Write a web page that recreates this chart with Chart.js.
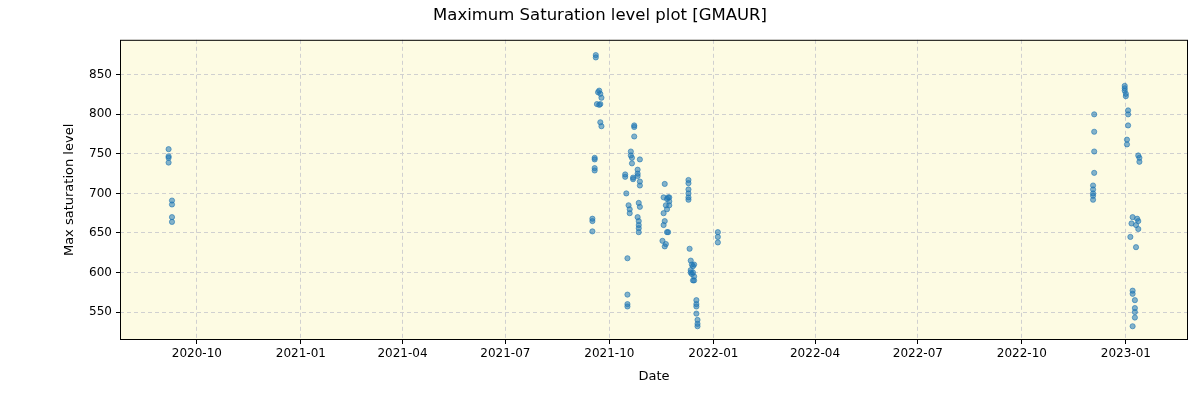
<!DOCTYPE html>
<html>
<head>
<meta charset="utf-8">
<script src="https://cdn.jsdelivr.net/npm/chart.js@4.4.0/dist/chart.umd.min.js"></script>
<style>
  html, body { margin: 0; padding: 0; background: #fff; }
  #wrap { width: 1200px; height: 400px; }
</style>
</head>
<body>
<div id="wrap"><canvas id="satChart"></canvas></div>
<script>
const obsDates = [
  '2020-09-06','2020-09-06','2020-09-06','2020-09-06',
  '2020-09-09','2020-09-09','2020-09-09','2020-09-09',
  '2021-09-19','2021-09-19','2021-09-21','2021-09-22','2021-09-23','2021-09-24',
  '2021-09-20','2021-09-22','2021-09-23','2021-09-23','2021-09-24',
  '2021-09-18','2021-09-18','2021-09-18','2021-09-18',
  '2021-09-16','2021-09-16','2021-09-16',
  '2021-10-15','2021-10-15','2021-10-16','2021-10-17','2021-10-17','2021-10-17','2021-10-17',
  '2021-10-18','2021-10-19','2021-10-19',
  '2021-10-20','2021-10-20','2021-10-21','2021-10-21',
  '2021-10-23','2021-10-23','2021-10-23','2021-10-22','2021-10-22',
  '2021-10-26','2021-10-26','2021-10-26','2021-10-28','2021-10-28','2021-10-28',
  '2021-10-27','2021-10-28','2021-10-26','2021-10-27','2021-10-27','2021-10-27','2021-10-27',
  '2021-11-19','2021-11-18','2021-11-21','2021-11-20','2021-11-22','2021-11-21',
  '2021-11-18','2021-11-19','2021-11-18','2021-11-21','2021-11-17','2021-11-20','2021-11-19',
  '2021-11-23','2021-11-23','2021-11-23','2021-11-22',
  '2021-12-10','2021-12-10','2021-12-10','2021-12-10','2021-12-10','2021-12-10',
  '2021-12-11','2021-12-12','2021-12-13','2021-12-14','2021-12-12','2021-12-13','2021-12-15','2021-12-14',
  '2021-12-12','2021-12-14','2021-12-15','2021-12-15',
  '2021-12-17','2021-12-17','2021-12-17','2021-12-17','2021-12-18','2021-12-18','2021-12-18',
  '2022-01-05','2022-01-05','2022-01-05',
  '2022-12-04','2022-12-04','2022-12-04','2022-12-04','2022-12-03','2022-12-03','2022-12-03','2022-12-03','2022-12-03',
  '2022-12-31','2022-12-31','2022-12-31','2023-01-01','2023-01-01',
  '2023-01-03','2023-01-03','2023-01-03','2023-01-02','2023-01-02',
  '2023-01-12','2023-01-13','2023-01-13',
  '2023-01-07','2023-01-11','2023-01-12','2023-01-10','2023-01-12','2023-01-06','2023-01-05','2023-01-10',
  '2023-01-07','2023-01-07','2023-01-09','2023-01-09','2023-01-09','2023-01-09','2023-01-07'
];
const satLevels = [
  756, 747, 745, 739,
  691, 686, 670, 664,
  875, 872, 828, 830, 826, 821,
  813, 812, 813, 790, 785,
  745, 743, 732, 729,
  668, 665, 652,
  724, 721, 700, 618, 572, 560, 557,
  685, 680, 675,
  753, 748, 745, 738,
  786, 784, 772, 720, 718,
  730, 725, 722, 715, 710, 743,
  688, 683, 670, 665, 660, 656, 651,
  712, 695, 693, 685, 695, 680,
  675, 665, 660, 651, 640, 636, 633,
  695, 690, 685, 651,
  717, 713, 705, 700, 695, 692,
  630, 615, 610, 608, 600, 598, 595, 590,
  603, 600, 610, 590,
  565, 560, 557, 548, 540, 535, 532,
  651, 645, 638,
  800, 778, 753, 726, 710, 705, 700, 697, 692,
  836, 833, 830, 826, 823,
  805, 800, 786, 768, 762,
  748, 745, 740,
  670, 668, 665, 660, 655, 662, 645, 632,
  577, 573, 565, 555, 550, 543, 532
];
const tickDates = ['2020-10-01','2021-01-01','2021-04-01','2021-07-01','2021-10-01',
  '2022-01-01','2022-04-01','2022-07-01','2022-10-01','2023-01-01'];
const yTicks = [550, 600, 650, 700, 750, 800, 850];

function toDay(s) {
  return Date.parse(s + 'T00:00:00Z') / 86400000;
}
function dayLabel(d) {
  const dt = new Date(Math.round(d) * 86400000);
  return dt.getUTCFullYear() + '-' + String(dt.getUTCMonth() + 1).padStart(2, '0');
}

const points = obsDates.map((d, i) => ({ x: toDay(d), y: satLevels[i] }));
const FONT = "'DejaVu Sans', sans-serif";

// plot area background (matplotlib-style light yellow) + frame
const bgPlugin = {
  id: 'plotBg',
  beforeDraw(chart) {
    const a = chart.chartArea;
    const ctx = chart.ctx;
    ctx.save();
    ctx.fillStyle = '#fdfbe3';
    ctx.fillRect(a.left, a.top, a.right - a.left, a.bottom - a.top);
    ctx.restore();
  },
  afterDraw(chart) {
    const a = chart.chartArea;
    const ctx = chart.ctx;
    ctx.save();
    ctx.strokeStyle = '#000';
    ctx.lineWidth = 1;
    ctx.strokeRect(a.left + 0.5, a.top + 0.5, a.right - a.left - 1, a.bottom - a.top - 1);
    ctx.restore();
  }
};

const gridOpts = {
  color: '#d0d0d0',
  tickColor: '#000',
  tickLength: 4,
  tickBorderDash: []
};

const ctx = document.getElementById('satChart').getContext('2d');
new Chart(ctx, {
  type: 'scatter',
  data: {
    datasets: [{
      label: 'Max saturation',
      data: points,
      backgroundColor: 'rgba(31,119,180,0.55)',
      borderColor: 'rgba(31,119,180,0.6)',
      borderWidth: 1,
      pointRadius: 2.6,
      pointHoverRadius: 2.6
    }]
  },
  options: {
    responsive: true,
    maintainAspectRatio: false,
    animation: false,
    layout: { padding: { left: 12, right: 12, top: 0, bottom: 16 } },
    plugins: {
      legend: { display: false },
      tooltip: { enabled: false },
      title: {
        display: true,
        text: 'Maximum Saturation level plot [GMAUR]',
        color: '#000',
        font: { family: FONT, size: 16.5, weight: 'normal' },
        padding: { top: 6, bottom: 14 }
      }
    },
    scales: {
      x: {
        type: 'linear',
        min: toDay('2020-07-25'),
        max: toDay('2023-02-25'),
        afterBuildTicks: (s) => { s.ticks = tickDates.map(d => ({ value: toDay(d) })); },
        afterFit: (s) => { s.height = 44; },
        ticks: {
          color: '#000',
          font: { family: FONT, size: 12 },
          padding: 3,
          maxRotation: 0,
          callback: (v) => dayLabel(v)
        },
        grid: gridOpts,
        border: { display: false, dash: [4, 3] },
        title: {
          display: true,
          text: 'Date',
          color: '#000',
          font: { family: FONT, size: 13 },
          padding: { top: 2, bottom: 0 }
        }
      },
      y: {
        min: 514.6,
        max: 894.3,
        afterBuildTicks: (s) => { s.ticks = yTicks.map(v => ({ value: v })); },
        afterFit: (s) => { s.width = 108; },
        ticks: {
          color: '#000',
          font: { family: FONT, size: 12 },
          padding: 4,
          callback: (v) => String(v)
        },
        grid: gridOpts,
        border: { display: false, dash: [4, 3] },
        title: {
          display: true,
          text: 'Max saturation level',
          color: '#000',
          font: { family: FONT, size: 13 },
          padding: { top: 50, bottom: 0 }
        }
      }
    }
  },
  plugins: [bgPlugin]
});
</script>
</body>
</html>
